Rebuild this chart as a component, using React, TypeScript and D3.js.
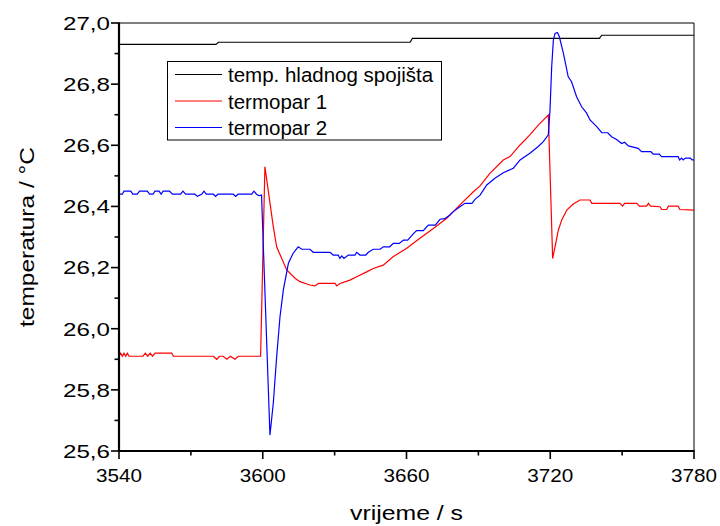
import React from "react";
import * as d3 from "d3";

const xTicks = [3540, 3600, 3660, 3720, 3780];
const yTicks = [25.6, 25.8, 26.0, 26.2, 26.4, 26.6, 26.8, 27.0];
const seriesNames = ["temp. hladnog spojišta", "termopar 1", "termopar 2"];
const seriesColors = ["#000000", "#ff0000", "#0000ff"];

const tBlack = [3540, 3580.5, 3581.5, 3661.5, 3662.5, 3740.5, 3741.5, 3780];
const vBlack = [26.93, 26.93, 26.937, 26.937, 26.95, 26.95, 26.96, 26.96];

const tRed = [
  3540, 3540.7, 3541.4, 3542.1, 3542.8, 3543.5, 3544.2, 3550, 3551, 3552, 3553, 3554, 3555, 3562, 3562.7,
  3579.4, 3580.8, 3582, 3583.5, 3585, 3586.5, 3588.4, 3589.8, 3599.1,
  3600.9, 3604.4, 3605.8, 3610.0, 3613.5, 3615.5, 3619.7, 3621.8, 3623.2, 3630.2, 3630.9, 3632.2,
  3636.4, 3639.2, 3643.4, 3646.1, 3650.3, 3654.5, 3660.1, 3665.6, 3671.2, 3676.8, 3682.3, 3687.9,
  3690.7, 3694.8, 3700.4, 3703.2, 3707.4, 3711.5, 3715.0, 3717.8, 3719.2, 3721.0, 3722.0, 3723.4,
  3724.8, 3726.9, 3729.6, 3732.4, 3736.6, 3737.3, 3749.1, 3750.2, 3751, 3756.1, 3757.2, 3760.2,
  3761, 3761.9, 3765.8, 3766.5, 3768.6, 3769.3, 3773.4, 3774.1, 3780,
];
const vRed = [
  25.91, 25.92, 25.91, 25.92, 25.91, 25.92, 25.91, 25.91, 25.92, 25.91, 25.92, 25.91, 25.92, 25.92, 25.91,
  25.91, 25.9, 25.91, 25.91, 25.9, 25.91, 25.9, 25.91, 25.91,
  26.53, 26.334, 26.268, 26.192, 26.165, 26.154, 26.143, 26.14, 26.148, 26.148, 26.14, 26.148,
  26.159, 26.17, 26.186, 26.197, 26.208, 26.236, 26.263, 26.296, 26.328, 26.361, 26.405, 26.448,
  26.467, 26.508, 26.552, 26.563, 26.601, 26.634, 26.666, 26.688, 26.699, 26.23, 26.268, 26.323,
  26.356, 26.388, 26.408, 26.421, 26.421, 26.41, 26.41, 26.401, 26.41, 26.41, 26.401, 26.401,
  26.41, 26.401, 26.399, 26.39, 26.39, 26.401, 26.401, 26.39, 26.388,
];

const tBlue = [
  3540, 3541.4, 3542.1, 3544.9, 3545.8, 3547.6, 3548.6, 3551.8, 3552.8, 3554.2, 3555, 3556.7, 3557.6,
  3558.4, 3561.1, 3562.3, 3565.7, 3566.7, 3567.8, 3571.7, 3572.7, 3574.5, 3575.5, 3576.4, 3579.4,
  3580.3, 3581.3, 3587.7, 3588.7, 3589.7, 3595.4, 3596.3, 3597.4, 3598.4, 3599.5,
  3603.0, 3604.4, 3605.8, 3607.2, 3608.6, 3610.7, 3612.7, 3614.8, 3616.3, 3619.7, 3621.1, 3628.1,
  3629.4, 3631.5, 3632.2, 3633, 3633.9, 3635.7, 3638.5, 3639.2, 3640.6, 3643, 3644.1, 3646.1, 3649,
  3650.3, 3653, 3654.5, 3657, 3658.7, 3660.5, 3662.8, 3664.2, 3667, 3669.1, 3672, 3674, 3676, 3678.1,
  3679.5, 3682.3, 3684.4, 3687.3, 3688.6, 3690.7, 3693.5, 3696.9, 3700.4, 3704.6, 3707.4, 3711.5,
  3715, 3717.1, 3719.2, 3719.9, 3720.6, 3721.3, 3722, 3723, 3723.8, 3725.5, 3727.5, 3728.9, 3731,
  3733.1, 3735.2, 3736.6, 3739.4, 3741.5, 3744, 3745.6, 3747.7, 3749.8, 3751, 3752.6, 3756.7, 3758.1,
  3762, 3763, 3765.5, 3766.5, 3773.4, 3774, 3774.8, 3775.5, 3776.4, 3778.5, 3779.2, 3780,
];
const vBlue = [
  26.44, 26.44, 26.45, 26.45, 26.44, 26.44, 26.45, 26.45, 26.44, 26.44, 26.45, 26.45, 26.44,
  26.45, 26.45, 26.44, 26.44, 26.45, 26.44, 26.44, 26.433, 26.44, 26.45, 26.44, 26.44,
  26.433, 26.44, 26.44, 26.433, 26.44, 26.44, 26.45, 26.44, 26.435, 26.437,
  25.652, 25.756, 25.908, 26.039, 26.127, 26.214, 26.247, 26.268, 26.26, 26.26, 26.25, 26.25,
  26.241, 26.241, 26.23, 26.238, 26.23, 26.241, 26.241, 26.25, 26.241, 26.241, 26.25, 26.26, 26.26,
  26.268, 26.268, 26.279, 26.279, 26.29, 26.29, 26.31, 26.321, 26.321, 26.339, 26.339, 26.358, 26.36, 26.372,
  26.383, 26.399, 26.41, 26.41, 26.423, 26.437, 26.47, 26.492, 26.51, 26.525, 26.552, 26.574,
  26.596, 26.612, 26.634, 26.715, 26.857, 26.944, 26.966, 26.969, 26.955, 26.901, 26.824, 26.808, 26.759,
  26.726, 26.705, 26.683, 26.661, 26.641, 26.641, 26.628, 26.619, 26.606, 26.61, 26.598, 26.59, 26.579,
  26.579, 26.571, 26.571, 26.563, 26.563, 26.552, 26.558, 26.552, 26.558, 26.558, 26.552, 26.552,
];

const W = 720;
const H = 526;
const L = 119;
const R = 694;
const T = 23;
const B = 451;
const FONT = "Arial, 'Liberation Sans', Helvetica, sans-serif";

export default function App() {
  const x = d3.scaleLinear().domain([3540, 3780]).range([L, R]);
  const y = d3.scaleLinear().domain([25.6, 27.0]).range([B, T]);
  const line = d3
    .line<[number, number]>()
    .x((d) => x(d[0]))
    .y((d) => y(d[1]));
  const zip = (ts: number[], vs: number[]) => ts.map((t, i) => [t, vs[i]] as [number, number]);
  const paths = [zip(tBlack, vBlack), zip(tRed, vRed), zip(tBlue, vBlue)];

  const xMinor = d3.range(3570, 3780, 60);
  const yMinor = d3.range(0, 7).map((i) => 25.7 + i * 0.2);

  return (
    <svg
      width={W}
      height={H}
      style={{ position: "absolute", left: 0, top: 0, background: "#fff" }}
      fontFamily={FONT}
    >
      <rect x={0} y={0} width={W} height={H} fill="#fff" />
      <defs>
        <clipPath id="plot">
          <rect x={L} y={T} width={R - L} height={B - T} />
        </clipPath>
      </defs>
      {/* frame top/right */}
      <line x1={L} x2={R} y1={T} y2={T} stroke="#000" strokeWidth={1} />
      <line x1={R} x2={R} y1={T} y2={B} stroke="#000" strokeWidth={1} />

      <g clipPath="url(#plot)">
        {paths.map((p, i) => (
          <path key={i} d={line(p) || ""} fill="none" stroke={seriesColors[i]} strokeWidth={1.2} />
        ))}
      </g>

      {/* left & bottom axes */}
      <line x1={L} x2={L} y1={T - 0.5} y2={B + 1} stroke="#000" strokeWidth={2.2} />
      <line x1={L - 1} x2={R + 0.5} y1={B} y2={B} stroke="#000" strokeWidth={2.2} />

      {xTicks.map((t) => (
        <g key={"xt" + t}>
          <line x1={x(t)} x2={x(t)} y1={B} y2={B + 8} stroke="#000" strokeWidth={1.6} />
          <text
            x={x(t)}
            y={482}
            textAnchor="middle"
            fontSize={19}
            textLength={46}
            lengthAdjust="spacingAndGlyphs"
          >
            {t}
          </text>
        </g>
      ))}
      {xMinor.map((t) => (
        <line key={"xm" + t} x1={x(t)} x2={x(t)} y1={B} y2={B + 4.5} stroke="#000" strokeWidth={1.6} />
      ))}
      {yTicks.map((v) => (
        <g key={"yt" + v}>
          <line x1={L - 8} x2={L} y1={y(v)} y2={y(v)} stroke="#000" strokeWidth={1.6} />
          <text
            x={110}
            y={y(v) + 6.8}
            textAnchor="end"
            fontSize={19}
            textLength={47}
            lengthAdjust="spacingAndGlyphs"
          >
            {v.toFixed(1).replace(".", ",")}
          </text>
        </g>
      ))}
      {yMinor.map((v) => (
        <line key={"ym" + v} x1={L - 4.5} x2={L} y1={y(v)} y2={y(v)} stroke="#000" strokeWidth={1.6} />
      ))}

      <text
        x={406.5}
        y={520}
        textAnchor="middle"
        fontSize={20.5}
        textLength={113}
        lengthAdjust="spacingAndGlyphs"
      >
        vrijeme / s
      </text>
      <text
        transform={`translate(34,${(T + B) / 2}) rotate(-90)`}
        textAnchor="middle"
        fontSize={20.5}
        textLength={180}
        lengthAdjust="spacingAndGlyphs"
      >
        temperatura / °C
      </text>

      {/* legend */}
      <rect x={167.5} y={61.5} width={274} height={78.5} fill="#fff" stroke="#000" strokeWidth={1} />
      {seriesNames.map((n, i) => (
        <g key={n}>
          <line
            x1={175}
            x2={222}
            y1={74.5 + i * 26.5}
            y2={74.5 + i * 26.5}
            stroke={seriesColors[i]}
            strokeWidth={1.2}
          />
          <text x={228} y={82 + i * 26.5} fontSize={20.5}>
            {n}
          </text>
        </g>
      ))}
    </svg>
  );
}
